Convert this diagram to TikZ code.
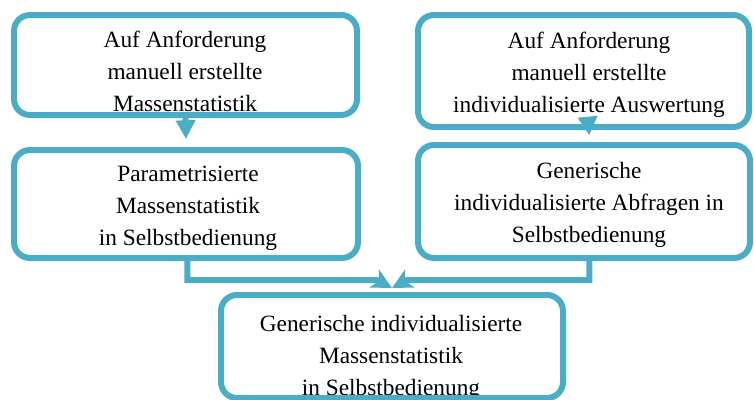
\documentclass[tikz,border=0pt]{standalone}
\usepackage{fontspec}
\setmainfont{Liberation Serif}
\usetikzlibrary{arrows.meta}
\definecolor{aqua}{HTML}{4BACC6}
\begin{document}
\begin{tikzpicture}[x=0.75pt,y=-0.75pt, line join=round,
	font=\fontsize{17.5}{24}\selectfont,
	box/.style={draw=aqua, line width=4.5pt, rounded corners=12pt, inner sep=0pt},
	txt/.style={align=center, inner sep=0pt},
	arr/.style={draw=aqua, line width=4.5pt, -{Triangle[length=14pt,width=14pt]}},
	link/.style={draw=aqua, line width=4.5pt, line join=miter, -{Stealth[length=15pt,width=15pt,inset=4pt]}}]
	\def\u{0.75pt} % 1px
	\useasboundingbox (0,0) rectangle (754,400);
	% Texte zuerst, Rahmen darueber
	\node[txt] (tA) at (185,71.5) {Auf Anforderung\\manuell erstellte\\Massenstatistik};
	\node[txt] (tB) at (589,74.5) {Auf Anforderung\\manuell erstellte\\individualisierte Auswertung};
	\node[txt] (tC) at (188,208) {Parametrisierte\\Massenstatistik\\in Selbstbedienung};
	\node[txt] (tD) at (589,204.5) {Generische\\individualisierte Abfragen in\\Selbstbedienung};
	\node[txt] (tE) at (391,358) {Generische individualisierte\\Massenstatistik\\in Selbstbedienung};
	% Rahmen
	\node[box, minimum width=343*\u, minimum height=100*\u] (boxA) at (185.5,65) {};
	\node[box, minimum width=331*\u, minimum height=112*\u] (boxB) at (583.5,71) {};
	\node[box, minimum width=344*\u, minimum height=108*\u] (boxC) at (186,204) {};
	\node[box, minimum width=332*\u, minimum height=113*\u] (boxD) at (584,201.5) {};
	\node[box, minimum width=342*\u, minimum height=103*\u] (boxE) at (392,346.5) {};
	% Pfeile
	\draw[arr] (boxA.south) -- ([yshift=6pt]boxC.north);
	\draw[arr] ([xshift=4pt]boxB.south) -- ([xshift=4pt,yshift=5pt]boxD.north);
	\draw[link] ([xshift=1pt]boxC.south) |- (377,280) -- ([yshift=3pt]boxE.north);
	\draw[link] ([xshift=4pt]boxD.south) |- (407,280) -- ([yshift=3pt]boxE.north);
\end{tikzpicture}
\end{document}
